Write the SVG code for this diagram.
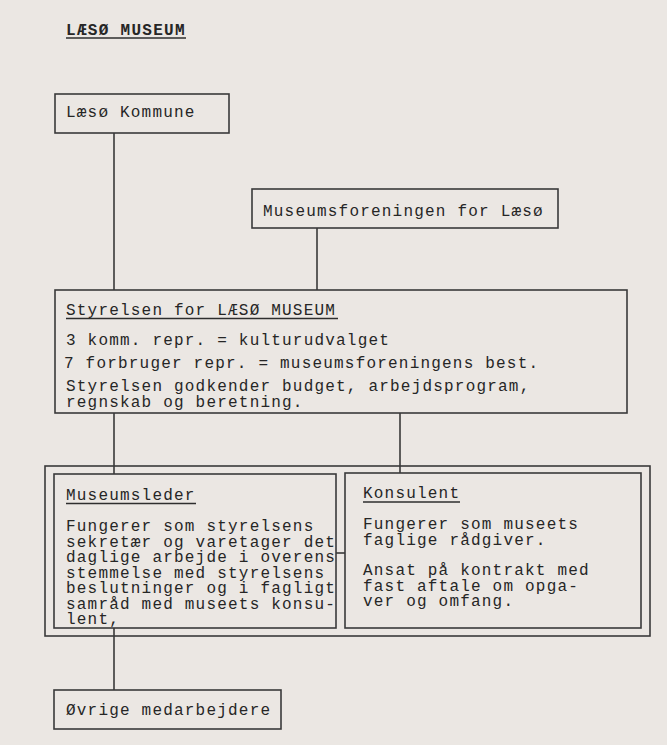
<svg xmlns="http://www.w3.org/2000/svg" width="667" height="745" viewBox="0 0 667 745">
<style>
.bg{fill:#ebe7e3}
.box{fill:none;stroke:#3a3a3a;stroke-width:1.6}
.ln{fill:none;stroke:#2e2e2e;stroke-width:1.5}
.ul{fill:none;stroke:#2e2e2e;stroke-width:1.4}
text{font-family:"Liberation Mono","DejaVu Sans Mono",monospace;font-size:16px;letter-spacing:1.2px;fill:#262626}
.title{font-weight:bold;font-size:16px;letter-spacing:1.3px}
</style>
<rect class="bg" x="0" y="0" width="667" height="745"/>
<g id="title">
<text class="title" x="66" y="35">LÆSØ MUSEUM</text>
<line class="ul" x1="66" y1="38" x2="186" y2="38"/>
</g>
<g id="connectors">
<line class="ln" x1="114" y1="133" x2="114" y2="290"/>
<line class="ln" x1="317" y1="228" x2="317" y2="290"/>
<line class="ln" x1="114" y1="413" x2="114" y2="474"/>
<line class="ln" x1="400" y1="413" x2="400" y2="473"/>
<line class="ln" x1="336" y1="553" x2="345" y2="553"/>
<line class="ln" x1="114" y1="628" x2="114" y2="690"/>
</g>
<g id="kommune">
<rect class="box" x="55" y="94" width="174" height="39"/>
<text x="66" y="117">Læsø Kommune</text>
</g>
<g id="museumsforeningen">
<rect class="box" x="252" y="189" width="306" height="39"/>
<text x="263" y="216">Museumsforeningen for Læsø</text>
</g>
<g id="styrelsen">
<rect class="box" x="55" y="290" width="572" height="123"/>
<text x="66" y="315">Styrelsen for LÆSØ MUSEUM</text>
<line class="ul" x1="66" y1="318.5" x2="338" y2="318.5"/>
<text x="66" y="345">3 komm. repr. = kulturudvalget</text>
<text x="64" y="368">7 forbruger repr. = museumsforeningens best.</text>
<text x="66" y="391">Styrelsen godkender budget, arbejdsprogram,</text>
<text x="66" y="407">regnskab og beretning.</text>
</g>
<g id="ledelse">
<rect class="box" x="45" y="466" width="605" height="170"/>
</g>
<g id="museumsleder">
<rect class="box" x="54" y="474" width="282" height="154"/>
<text x="66" y="500">Museumsleder</text>
<line class="ul" x1="66" y1="503.5" x2="196" y2="503.5"/>
<text x="66" y="531">Fungerer som styrelsens</text>
<text x="66" y="546.5">sekretær og varetager det</text>
<text x="66" y="562">daglige arbejde i overens</text>
<text x="66" y="577.5">stemmelse med styrelsens</text>
<text x="66" y="593">beslutninger og i fagligt</text>
<text x="66" y="608.5">samråd med museets konsu-</text>
<text x="66" y="624">lent,</text>
</g>
<g id="konsulent">
<rect class="box" x="345" y="473" width="296" height="155"/>
<text x="363" y="498">Konsulent</text>
<line class="ul" x1="363" y1="502" x2="460" y2="502"/>
<text x="363" y="529">Fungerer som museets</text>
<text x="363" y="544.5">faglige rådgiver.</text>
<text x="363" y="575">Ansat på kontrakt med</text>
<text x="363" y="590.5">fast aftale om opga-</text>
<text x="363" y="606">ver og omfang.</text>
</g>
<g id="medarbejdere">
<rect class="box" x="54" y="690" width="227" height="39"/>
<text x="66" y="715">Øvrige medarbejdere</text>
</g>
</svg>
